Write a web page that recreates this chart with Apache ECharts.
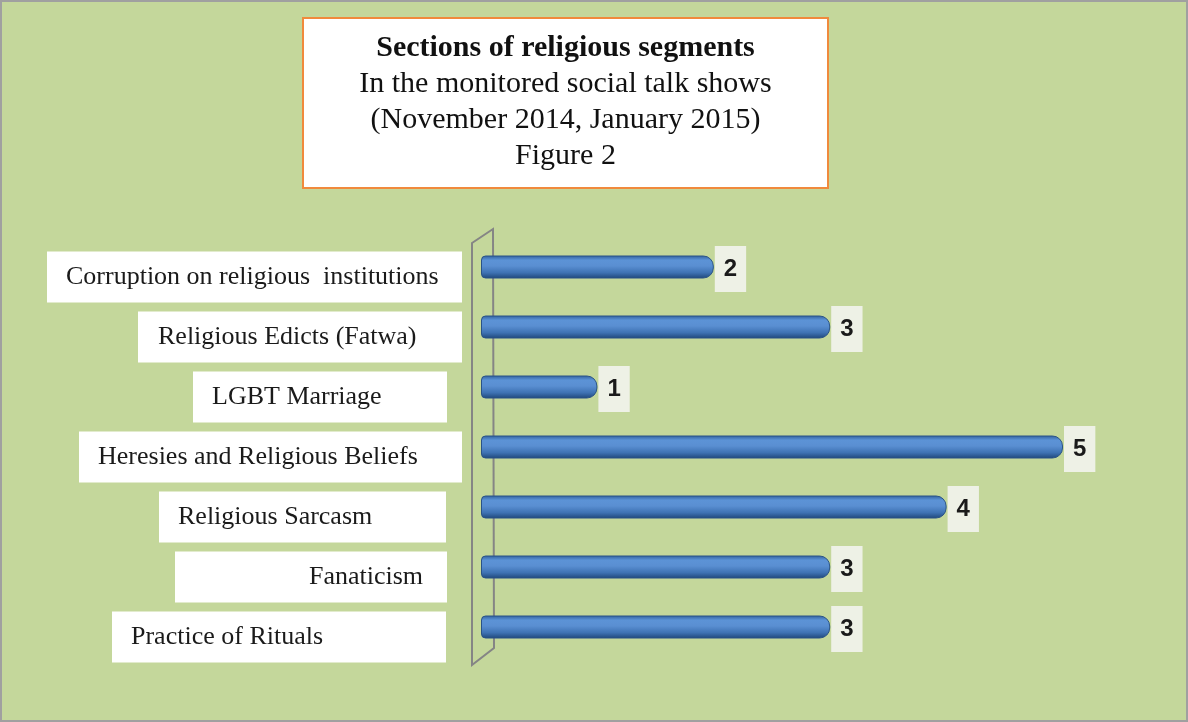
<!DOCTYPE html>
<html>
<head>
<meta charset="utf-8">
<script src="https://cdn.jsdelivr.net/npm/echarts@6/dist/echarts.min.js"></script>
<style>
  html, body { margin: 0; padding: 0; background: #c4d79b; }
  #main { width: 1188px; height: 722px; }
</style>
</head>
<body>
<div id="main"></div>
<script>
// data
var categories = [
  'Corruption on religious  institutions',
  'Religious Edicts (Fatwa)',
  'LGBT Marriage',
  'Heresies and Religious Beliefs',
  'Religious Sarcasm',
  'Fanaticism',
  'Practice of Rituals'
];
var segmentCounts = [2, 3, 1, 5, 4, 3, 3];
var titleLines = [
  'Sections of religious segments',
  'In the monitored social talk shows',
  '(November 2014, January 2015)',
  'Figure 2'
];

// white boxes behind category names: [left, right, text start] in px
var labelBoxes = [
  [47, 462, 66], [138, 462, 158], [193, 447, 212], [79, 462, 98],
  [159, 446, 178], [175, 447, 309], [112, 446, 131]
];

var serif = '"Liberation Serif", "DejaVu Serif", serif';
var rich = {};
labelBoxes.forEach(function (b, i) {
  rich['b' + i] = {
    backgroundColor: '#ffffff',
    width: b[1] - b[2],
    height: 51,
    lineHeight: 51,
    padding: [0, 0, 0, b[2] - b[0]],
    align: 'left',
    fontFamily: serif,
    fontSize: 26,
    color: '#1a1a1a'
  };
  rich['g' + i] = { width: 462 - b[1], height: 51 };
});

var myChart = echarts.init(document.getElementById('main'));
var option = {
  backgroundColor: '#c4d79b',
  animation: false,
  title: {
    left: 303,
    top: 15,
    text: '{a|' + titleLines[0] + '}\n' + titleLines.slice(1).map(function (t) { return '{b|' + t + '}'; }).join('\n'),
    backgroundColor: '#ffffff',
    borderColor: '#f08a3c',
    borderWidth: 2,
    padding: [15, 2, 17, 2],
    textStyle: {
      fontWeight: 'normal',
      rich: {
        a: { fontFamily: serif, fontSize: 30, fontWeight: 'bold', color: '#111', width: 521, align: 'center', lineHeight: 36 },
        b: { fontFamily: serif, fontSize: 30, fontWeight: 'normal', color: '#111', width: 521, align: 'center', lineHeight: 36 }
      }
    }
  },
  grid: { left: 481, right: 125, top: 237, height: 420, outerBoundsMode: 'none' },
  xAxis: { type: 'value', min: 0, max: 5, show: false },
  yAxis: {
    type: 'category',
    data: categories,
    inverse: true,
    axisLine: { show: false },
    axisTick: { show: false },
    axisLabel: {
      margin: 19,
      align: 'right',
      padding: [20, 0, 0, 0],
      formatter: function (value, idx) {
        var gap = 462 - labelBoxes[idx][1];
        return '{b' + idx + '|' + value + '}' + (gap > 0 ? '{g' + idx + '|\u00a0}' : '');
      },
      rich: rich
    }
  },
  graphic: [
    {
      type: 'polygon',
      z: 0,
      shape: { points: [[472, 243], [493, 229], [494, 648], [472, 665]] },
      style: { fill: 'none', stroke: '#858585', lineWidth: 2 }
    },
    {
      type: 'rect',
      z: 0,
      shape: { x: 1, y: 1, width: 1186, height: 720 },
      style: { fill: 'none', stroke: '#a0a0a0', lineWidth: 2 }
    }
  ],
  series: [
    {
      type: 'bar',
      data: segmentCounts,
      barWidth: 23,
      itemStyle: {
        borderRadius: [4, 10, 10, 4],
        borderColor: '#2a5387',
        borderWidth: 1,
        color: new echarts.graphic.LinearGradient(0, 0, 0, 1, [
          { offset: 0, color: '#2f5f9c' },
          { offset: 0.2, color: '#5c93d6' },
          { offset: 0.45, color: '#5a8fd2' },
          { offset: 0.75, color: '#3e72b3' },
          { offset: 1, color: '#1e4679' }
        ])
      },
      label: {
        show: true,
        position: 'right',
        distance: 1,
        offset: [0, 2],
        formatter: '{c}',
        fontFamily: '"Liberation Sans", Arial, sans-serif',
        fontWeight: 'bold',
        fontSize: 24,
        lineHeight: 24,
        color: '#1a1a1a',
        backgroundColor: '#eef1e6',
        padding: [11, 9, 11, 9]
      }
    }
  ]
};
myChart.setOption(option);
</script>
</body>
</html>
